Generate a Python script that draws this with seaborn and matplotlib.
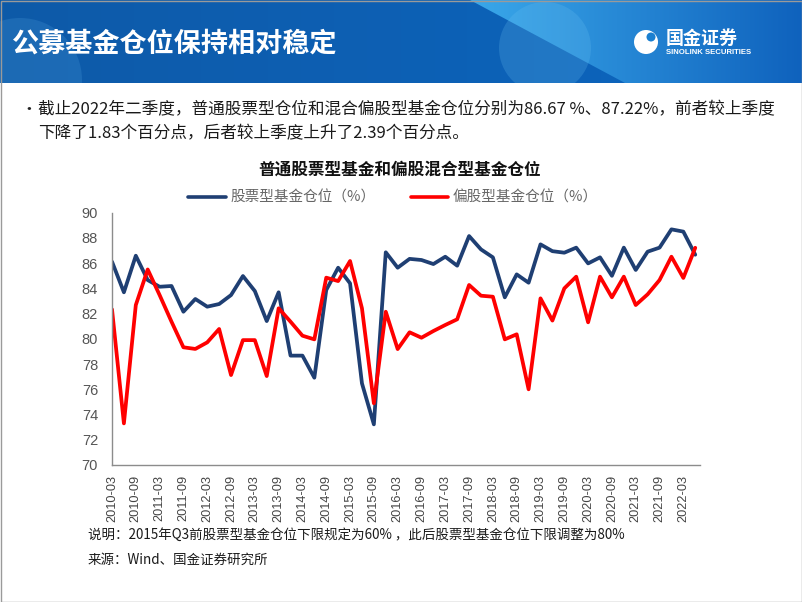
import matplotlib
matplotlib.use("Agg")
import numpy as np
import pandas as pd
import matplotlib.pyplot as plt
import seaborn as sns
from matplotlib.patches import Rectangle, Polygon, Circle
from matplotlib.lines import Line2D

# quarterly categories 2010-03 .. 2022-06
quarters = [f"{y}-{m:02d}" for y in range(2010, 2023) for m in (3, 6, 9, 12)][:50]
tick_labels = quarters[::2]

# 普通股票型基金仓位 (%)
stock_pos = [86.12, 83.69, 86.59, 84.66, 84.13, 84.19, 82.15, 83.16, 82.55, 82.76,
             83.47, 84.98, 83.79, 81.41, 83.69, 78.67, 78.67, 76.92, 83.87, 85.64,
             84.40, 76.47, 73.22, 86.86, 85.64, 86.34, 86.25, 85.93, 86.51, 85.80,
             88.15, 87.09, 86.46, 83.29, 85.11, 84.45, 87.49, 86.95, 86.83, 87.23,
             85.98, 86.46, 85.00, 87.23, 85.46, 86.91, 87.23, 88.68, 88.50, 86.67]
# 偏股混合型基金仓位 (%)
mixed_pos = [82.34, 73.30, 82.68, 85.50, 83.47, 81.36, 79.33, 79.20, 79.72, 80.78,
             77.13, 79.90, 79.90, 77.05, 82.42, 81.36, 80.25, 79.96, 84.85, 84.58,
             86.17, 82.42, 74.89, 82.15, 79.19, 80.52, 80.09, 80.62, 81.10, 81.55,
             84.27, 83.42, 83.34, 79.96, 80.36, 76.00, 83.21, 81.45, 84.00, 84.93,
             81.31, 84.93, 83.29, 84.93, 82.68, 83.53, 84.66, 86.51, 84.83, 87.22]

series_names = ["股票型基金仓位（%）", "偏股型基金仓位（%）"]
series_colors = ["#1F3F73", "#FF0000"]

sns.set_theme(style="white")
plt.rcParams['font.family'] = ['Noto Sans CJK SC', 'DejaVu Sans']
plt.rcParams['axes.unicode_minus'] = False

W, H = 802, 602
fig = plt.figure(figsize=(W / 100, H / 100), dpi=100)
fig.patch.set_facecolor("white")

# background layer in pixel coordinates
bg = fig.add_axes([0, 0, 1, 1], zorder=0)
bg.set_xlim(0, W)
bg.set_ylim(H, 0)
bg.axis("off")

# header banner
banner_h = 83
banner_clip = Rectangle((0, 0), W, banner_h, transform=bg.transData,
                        facecolor="none", edgecolor="none")
bg.add_patch(banner_clip)
grad = np.linspace(0, 1, 400)
c_left = np.array([0x0E, 0x5A, 0xA8]) / 255
c_right = np.array([0x0C, 0x66, 0xC0]) / 255
row = c_left[None, :] * (1 - grad[:, None]) + c_right[None, :] * grad[:, None]
bg.imshow(np.tile(row[None, :, :], (10, 1, 1)), extent=[0, W, banner_h, 0],
          aspect="auto", zorder=1)
left_glow = Circle((20, 80), 62, color="#4A9BDB", alpha=0.25, lw=0, zorder=2)
bg.add_patch(left_glow)
left_glow.set_clip_path(banner_clip)
# light swoosh on the right
sw_grad = np.linspace(0, 1, 300)
c1 = np.array([0x3A, 0xA8, 0xEA]) / 255
c2 = np.array([0x0F, 0x62, 0xBD]) / 255
sw_row = c1[None, :] * (1 - sw_grad[:, None]) + c2[None, :] * sw_grad[:, None]
sw = bg.imshow(np.tile(sw_row[None, :, :], (10, 1, 1)), extent=[470, W, banner_h, 0],
               aspect="auto", zorder=2)
clip = Polygon([(470, 0), (W, 0), (W, banner_h), (625, banner_h)], closed=True,
               transform=bg.transData, facecolor="none", edgecolor="none")
bg.add_patch(clip)
sw.set_clip_path(clip)
right_glow = Circle((545, 48), 46, color="#6EC3F2", alpha=0.22, lw=0, zorder=3)
bg.add_patch(right_glow)
right_glow.set_clip_path(banner_clip)

bg.text(12, 44, "公募基金仓位保持相对稳定", color="white", fontsize=19.5,
        fontweight="bold", va="center", ha="left", zorder=5)

# logo
bg.add_patch(Circle((646, 42), 12, color="white", lw=0, zorder=5))
bg.add_patch(Circle((651, 37), 4.5, color="#1A7FD0", lw=0, zorder=6))
bg.text(666, 38, "国金证券", color="white", fontsize=13, fontweight="bold",
        va="center", ha="left", zorder=6)
bg.text(666, 53, "SINOLINK SECURITIES", color="white", fontsize=5.6,
        fontweight="bold", va="center", ha="left", family="Liberation Sans", zorder=6)

# bullet text
bg.text(20, 110, "•", fontsize=12, color="#222222", va="center", ha="left")
bg.text(38, 110, "截止2022年二季度，普通股票型仓位和混合偏股型基金仓位分别为86.67 %、87.22%，前者较上季度",
        fontsize=12.0, color="#1A1A1A", va="center", ha="left")
bg.text(38, 134, "下降了1.83个百分点，后者较上季度上升了2.39个百分点。",
        fontsize=12.0, color="#1A1A1A", va="center", ha="left")

# chart title
bg.text(400, 170, "普通股票型基金和偏股混合型基金仓位", fontsize=12, fontweight="bold",
        color="#111111", va="center", ha="center")

# notes
bg.text(88, 535, "说明：2015年Q3前股票型基金仓位下限规定为60% ，此后股票型基金仓位下限调整为80%",
        fontsize=9.7, color="#1A1A1A", va="center", ha="left")
bg.text(88, 560, "来源：Wind、国金证券研究所", fontsize=9.7, color="#1A1A1A",
        style="italic", va="center", ha="left")

# slide border
bg.add_patch(Rectangle((0.5, 0.5), W - 1, H - 1, fill=False, edgecolor="#9A9A9A",
                       lw=1, zorder=10))

# line chart
df = pd.DataFrame({
    "idx": list(range(len(quarters))) * 2,
    "value": stock_pos + mixed_pos,
    "series": [series_names[0]] * len(quarters) + [series_names[1]] * len(quarters),
})

ax = fig.add_axes([112 / W, 1 - 465 / H, (700 - 112) / W, (465 - 212.7) / H], zorder=2)
ax.set_facecolor("none")
sns.lineplot(data=df, x="idx", y="value", hue="series", palette=series_colors,
             linewidth=2.7, ax=ax, legend=False)

ax.set_xlim(0, 49.4)
ax.set_ylim(70, 90)
ax.set_yticks(range(70, 91, 2))
ax.set_xticks(range(0, len(quarters), 2))
ax.set_xticklabels(tick_labels, rotation=90, fontsize=9.2, color="#444444",
                   family="Liberation Sans")
ax.set_yticklabels([str(v) for v in range(70, 91, 2)], fontsize=10.5,
                   color="#555555", family="Liberation Sans")
ax.set_xlabel("")
ax.set_ylabel("")
for side in ["top", "right"]:
    ax.spines[side].set_visible(False)
for side in ["left", "bottom"]:
    ax.spines[side].set_color("#8C8C8C")
    ax.spines[side].set_linewidth(1.0)
ax.tick_params(axis="both", which="both", direction="out", length=4, width=0.8,
               color="#8C8C8C", pad=3)
ax.tick_params(axis="y", pad=6)
ax.grid(False)

handles = [Line2D([0], [0], color=c, lw=2.6) for c in series_colors]
fig.legend(handles, series_names, loc="center", bbox_to_anchor=(393 / W, 1 - 198 / H),
           ncol=2, frameon=False, fontsize=10.5, handlelength=2.6, handletextpad=0.3,
           columnspacing=2.4, labelcolor="#666666")

fig.savefig("out.png", dpi=100, facecolor="white")
